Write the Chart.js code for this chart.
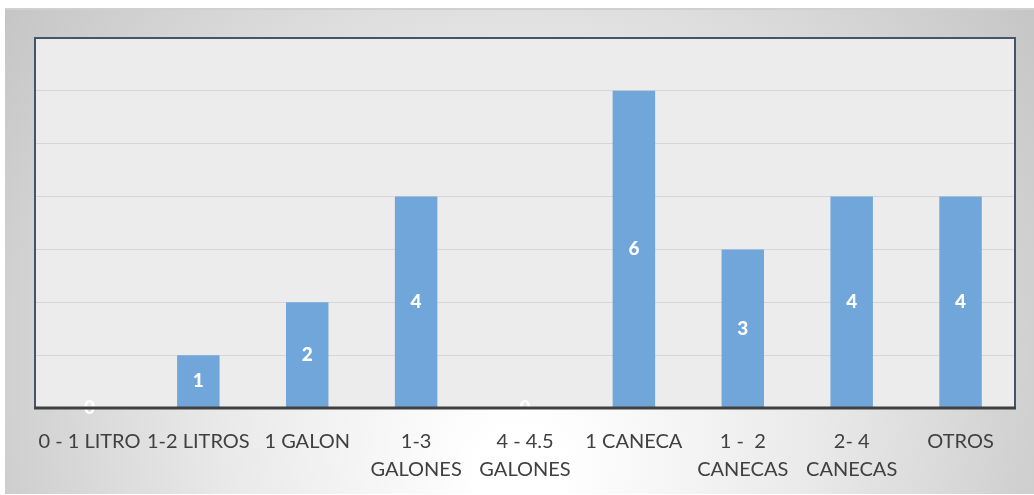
<!DOCTYPE html>
<html>
<head>
<meta charset="utf-8">
<script src="https://cdn.jsdelivr.net/npm/chart.js@4.4.1/dist/chart.umd.min.js"></script>
<style>
  html, body { margin: 0; padding: 0; background: #ffffff; }
  #wrap { width: 1034px; height: 495px; position: relative; }
</style>
</head>
<body>
<div id="wrap"><canvas id="c" width="1034" height="495"></canvas></div>
<script>
// Container sizes per category
const categories = [
  '0 - 1 LITRO', '1-2 LITROS', '1 GALON', ['1-3', 'GALONES'], ['4 - 4.5', 'GALONES'],
  '1 CANECA', ['1 -  2', 'CANECAS'], ['2- 4', 'CANECAS'], 'OTROS'
];
const counts = [0, 1, 2, 4, 0, 6, 3, 4, 4];
const yMax = 7;

// Grey framed panel behind everything, plus the light plot fill
const panelPlugin = {
  id: 'panel',
  beforeDraw(chart) {
    const ctx = chart.ctx;
    const a = chart.chartArea;
    ctx.save();
    const g = ctx.createRadialGradient(520, 470, 40, 520, 330, 620);
    g.addColorStop(0, '#ffffff');
    g.addColorStop(0.45, '#e9e9e9');
    g.addColorStop(1, '#c4c4c4');
    ctx.fillStyle = g;
    ctx.fillRect(5, 9, 1029, 485);
    ctx.fillStyle = '#d0d0d0';
    ctx.fillRect(5, 8, 1029, 2);
    ctx.fillStyle = '#ececec';
    ctx.fillRect(a.left, a.top, a.right - a.left, a.bottom - a.top);
    ctx.restore();
  },
  afterDraw(chart) {
    const ctx = chart.ctx;
    const a = chart.chartArea;
    ctx.save();
    ctx.strokeStyle = '#44546a';
    ctx.lineWidth = 2;
    ctx.beginPath();
    ctx.moveTo(a.left, a.bottom);
    ctx.lineTo(a.left, a.top);
    ctx.lineTo(a.right, a.top);
    ctx.lineTo(a.right, a.bottom);
    ctx.stroke();
    ctx.strokeStyle = '#404040';
    ctx.lineWidth = 3;
    ctx.beginPath();
    ctx.moveTo(a.left - 1, a.bottom);
    ctx.lineTo(a.right + 1, a.bottom);
    ctx.stroke();
    ctx.restore();
  }
};

// White value labels centred in each bar
const valueLabels = {
  id: 'valueLabels',
  afterDatasetsDraw(chart) {
    const ctx = chart.ctx;
    const meta = chart.getDatasetMeta(0);
    ctx.save();
    ctx.fillStyle = '#ffffff';
    ctx.font = '900 19px Lato, "Open Sans", sans-serif';
    ctx.textAlign = 'center';
    ctx.textBaseline = 'middle';
    meta.data.forEach((bar, i) => {
      const y = (bar.y + bar.base) / 2;
      ctx.fillText(String(counts[i]), bar.x, y);
    });
    ctx.restore();
  }
};

new Chart(document.getElementById('c'), {
  type: 'bar',
  data: {
    labels: categories,
    datasets: [{
      data: counts,
      backgroundColor: '#70a6d9',
      borderWidth: 0,
      barPercentage: 0.39,
      categoryPercentage: 1.0
    }]
  },
  options: {
    responsive: false,
    animation: false,
    layout: { padding: { left: 35, top: 38, right: 19, bottom: 0 } },
    plugins: { legend: { display: false }, tooltip: { enabled: false } },
    scales: {
      x: {
        grid: { display: false },
        border: { display: false },
        ticks: {
          autoSkip: false,
          maxRotation: 0,
          minRotation: 0,
          padding: 12,
          color: '#404040',
          font: { family: 'Lato, "Open Sans", sans-serif', size: 20, lineHeight: 1.4 }
        },
        afterFit(scale) { scale.height = 87; }
      },
      y: {
        min: 0,
        max: yMax,
        grid: { color: '#d6d6d6', lineWidth: 1, drawTicks: false },
        border: { display: false },
        ticks: { display: false, stepSize: 1 },
        afterFit(scale) { scale.width = 0; }
      }
    }
  },
  plugins: [panelPlugin, valueLabels]
});
</script>
</body>
</html>
